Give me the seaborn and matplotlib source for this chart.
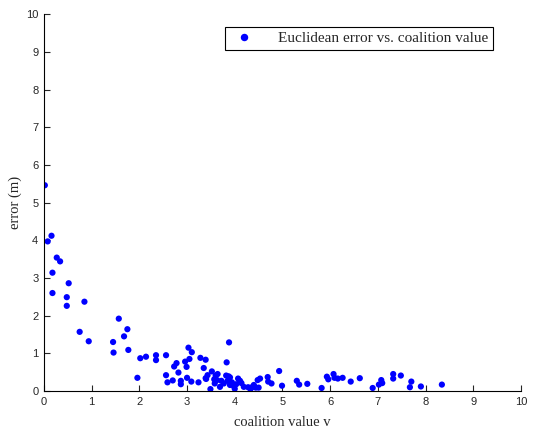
import matplotlib
matplotlib.use("Agg")
import matplotlib.pyplot as plt
import seaborn as sns
import pandas as pd

# coalition value v vs. euclidean error
coalition_value = [
    0.02, 0.08, 0.16, 0.27, 0.34, 0.18, 0.18, 0.52, 0.48, 0.48,
    0.85, 0.75, 0.94, 1.45, 1.46, 1.57, 1.75, 1.68, 1.77, 1.96,
    2.02, 2.14, 2.35, 2.35, 2.56, 2.56, 2.59, 2.70, 2.73, 2.78,
    2.82, 2.87, 2.87, 2.96, 2.99, 3.00, 3.03, 3.05, 3.10, 3.09,
    3.24, 3.28, 3.35, 3.39, 3.39, 3.43, 3.52, 3.49, 3.40, 3.57,
    3.60, 3.64, 3.63, 3.58, 3.69, 3.72, 3.77, 3.83, 3.88, 3.82,
    3.87, 3.85, 3.90, 3.90, 3.94, 3.98, 4.00, 4.03, 4.07, 4.11,
    4.14, 4.19, 4.28, 4.33, 4.36, 4.40, 4.44, 4.48, 4.53, 4.50,
    4.69, 4.70, 4.77, 4.93, 4.99, 5.30, 5.35, 5.52, 5.82, 5.93,
    5.96, 6.07, 6.09, 6.16, 6.26, 6.43, 6.62, 6.89, 7.02, 7.07,
    7.09, 7.32, 7.32, 7.48, 7.67, 7.70, 7.90, 8.34,
]
error_m = [
    5.46, 3.97, 4.12, 3.54, 3.44, 3.14, 2.60, 2.86, 2.49, 2.26,
    2.37, 1.57, 1.32, 1.30, 1.02, 1.92, 1.64, 1.45, 1.09, 0.35,
    0.87, 0.91, 0.95, 0.82, 0.95, 0.42, 0.23, 0.28, 0.65, 0.74,
    0.49, 0.27, 0.18, 0.78, 0.64, 0.35, 1.15, 0.85, 1.03, 0.25,
    0.23, 0.88, 0.61, 0.83, 0.34, 0.42, 0.52, 0.05, 0.32, 0.31,
    0.41, 0.45, 0.29, 0.20, 0.11, 0.27, 0.20, 0.76, 1.29, 0.41,
    0.39, 0.27, 0.36, 0.16, 0.23, 0.13, 0.06, 0.18, 0.33, 0.27,
    0.21, 0.11, 0.10, 0.05, 0.10, 0.16, 0.09, 0.29, 0.33, 0.09,
    0.37, 0.25, 0.20, 0.53, 0.14, 0.27, 0.17, 0.19, 0.08, 0.38,
    0.31, 0.45, 0.35, 0.33, 0.35, 0.25, 0.34, 0.08, 0.17, 0.29,
    0.21, 0.45, 0.33, 0.41, 0.10, 0.25, 0.12, 0.17,
]
series_label = "Euclidean error vs. coalition value"
ticks = list(range(0, 11))

df = pd.DataFrame({"v": coalition_value, "err": error_m, "series": series_label})

sns.set_style("ticks")
plt.rcParams["font.family"] = ["Liberation Sans", "DejaVu Sans"]

fig = plt.figure(figsize=(5.35, 4.30), dpi=100)
ax = fig.add_axes([0.082, 0.0907, 0.892, 0.8763])

sns.scatterplot(data=df, x="v", y="err", hue="series", palette=["#0000ff"],
                s=20, edgecolor="none", ax=ax)

ax.set_xlim(0, 10)
ax.set_ylim(0, 10)
ax.set_xticks(ticks)
ax.set_yticks(ticks)
ax.tick_params(direction="in", length=4, width=0.8, labelsize=8, pad=4)
for side in ["top", "right"]:
    ax.spines[side].set_visible(False)
for side in ["left", "bottom"]:
    ax.spines[side].set_linewidth(0.8)
    ax.spines[side].set_color("black")

serif = ["Liberation Serif", "DejaVu Serif"]
ax.set_xlabel("coalition value v", family=serif, fontsize=10.5, labelpad=7)
ax.set_ylabel("error (m)", family=serif, fontsize=10.5, labelpad=3)

leg = ax.legend(loc="upper right", bbox_to_anchor=(0.941, 0.966), frameon=True,
                fancybox=False, edgecolor="black", framealpha=1,
                prop={"family": serif, "size": 11}, markerscale=1.2,
                handletextpad=1.2, borderpad=0.3, borderaxespad=0)
leg.get_frame().set_linewidth(0.8)

fig.savefig("out.png", dpi=100)
